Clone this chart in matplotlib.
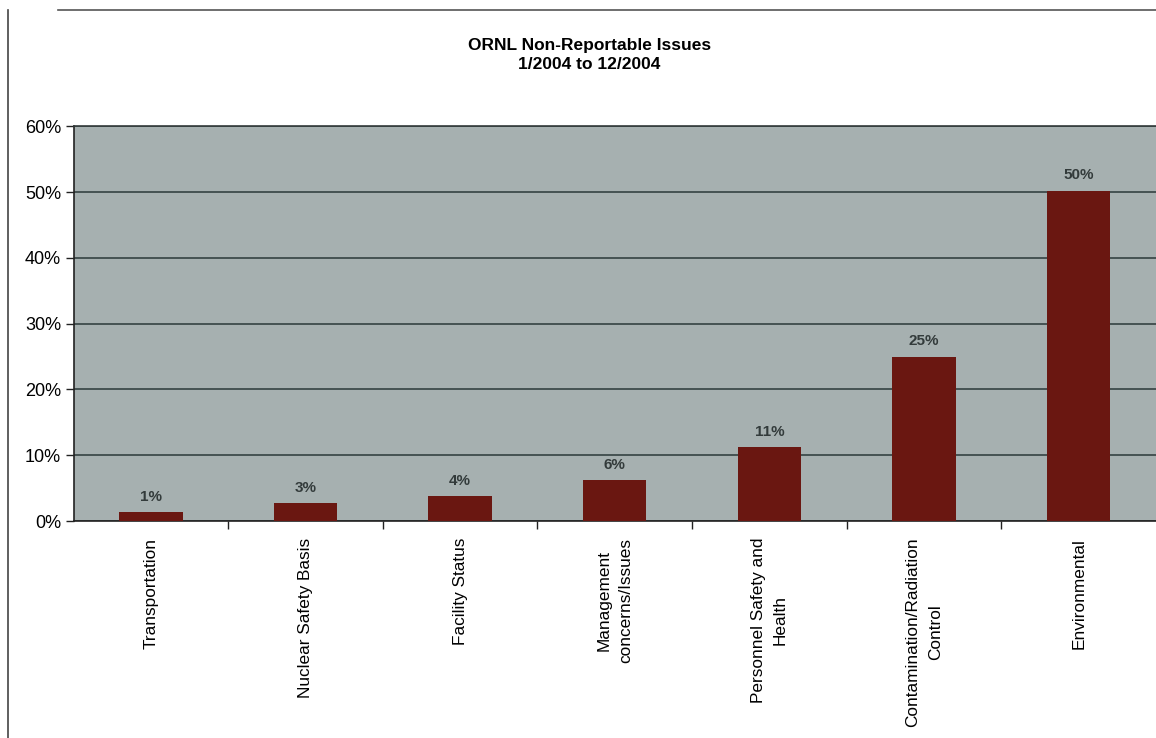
import matplotlib
matplotlib.use("Agg")
import matplotlib.pyplot as plt
from matplotlib.lines import Line2D
from matplotlib.ticker import FuncFormatter, MultipleLocator, FixedLocator

categories = ["Transportation", "Nuclear Safety Basis", "Facility Status",
              "Management\nconcerns/Issues", "Personnel Safety and\nHealth",
              "Contamination/Radiation\nControl", "Environmental"]
values = [1.3, 2.7, 3.8, 6.2, 11.2, 25.0, 50.2]
value_labels = ["1%", "3%", "4%", "6%", "11%", "25%", "50%"]

plt.rcParams['font.family'] = ['Liberation Sans', 'DejaVu Sans']

fig = plt.figure(figsize=(11.56, 7.38), dpi=100)
ax = fig.add_axes([0.0636, 0.294, 0.9364, 0.535])

ax.set_facecolor("#a6b0b0")
x = range(len(categories))
bars = ax.bar(x, values, width=0.41, color="#6a1711", zorder=3)

for b, lab in zip(bars, value_labels):
    ax.annotate(lab, (b.get_x() + b.get_width() / 2, b.get_height()),
                xytext=(0, 6), textcoords="offset points",
                ha="center", va="bottom", fontsize=11,
                fontweight="bold", color="#333b3b", zorder=4)

ax.set_xlim(-0.5, len(categories) - 0.5)
ax.set_ylim(0, 60)
ax.yaxis.set_major_locator(MultipleLocator(10))
ax.yaxis.set_major_formatter(FuncFormatter(lambda v, p: f"{v:.0f}%"))
ax.grid(axis="y", color="#2b3838", linewidth=1.1, zorder=1)

ax.set_xticks(list(x))
ax.set_xticklabels(categories, rotation=90, fontsize=12.4,
                   multialignment="center")
for t in ax.get_xticklabels():
    t.set_linespacing(1.6)
ax.tick_params(axis="x", which="major", length=0, pad=12)
ax.xaxis.set_minor_locator(FixedLocator([i + 0.5 for i in range(len(categories) - 1)]))
ax.tick_params(axis="x", which="minor", length=6, width=1, color="#222222")
ax.tick_params(axis="y", length=6, width=1, color="#222222", labelsize=13, pad=3)

for side in ["top", "right"]:
    ax.spines[side].set_visible(False)
ax.spines["left"].set_color("#222222")
ax.spines["bottom"].set_color("#222222")
ax.spines["left"].set_linewidth(1.2)
ax.spines["bottom"].set_linewidth(1.2)
ax.plot([0, 1], [1, 1], transform=ax.transAxes, color="#333b3b",
        linewidth=1.2, clip_on=False, zorder=5)

fig.text(0.51, 0.925, "ORNL Non-Reportable Issues\n1/2004 to 12/2004",
         ha="center", va="center", fontsize=12.5, fontweight="bold",
         linespacing=1.35)

# outer frame of the scanned chart
fig.add_artist(Line2D([0.007, 0.007], [0.0, 0.986], color="#444444", linewidth=1.2))
fig.add_artist(Line2D([0.05, 1.0], [0.986, 0.986], color="#555555", linewidth=1.2))

fig.savefig("out.png", dpi=100)
